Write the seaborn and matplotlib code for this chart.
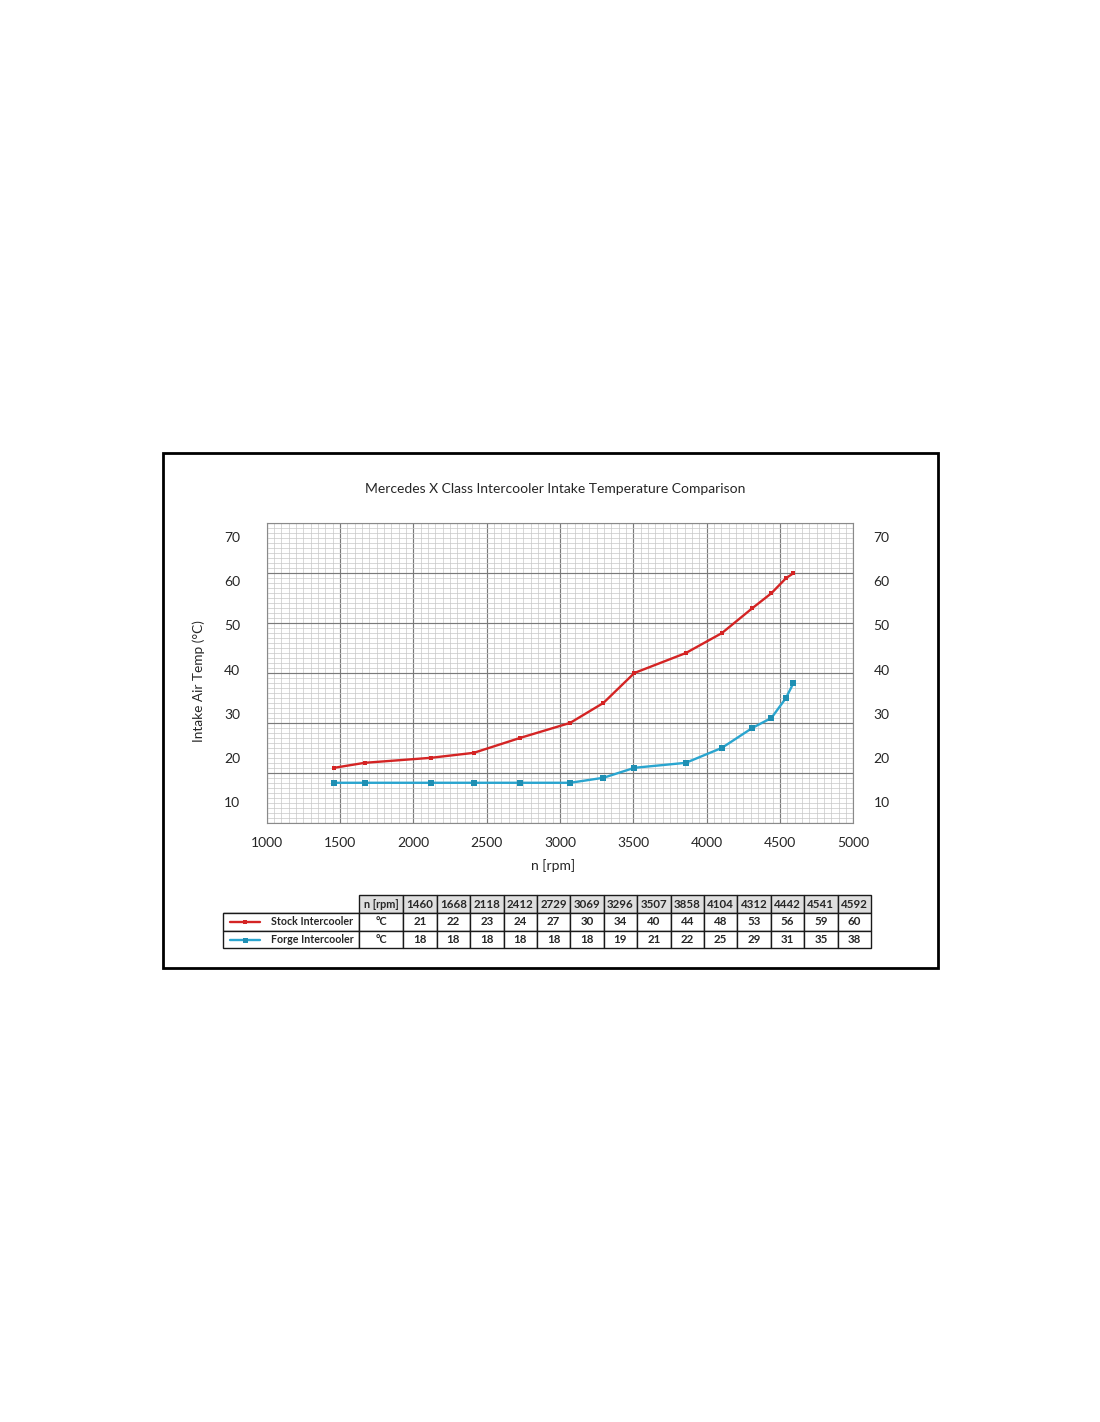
import numpy as np
import pandas as pd
import matplotlib
matplotlib.use("Agg")
import matplotlib.pyplot as plt
import seaborn as sns
from matplotlib.ticker import MultipleLocator
from matplotlib.patches import Rectangle
from matplotlib.lines import Line2D

# ---------------- data ----------------
rpm = [1460, 1668, 2118, 2412, 2729, 3069, 3296, 3507, 3858, 4104, 4312, 4442, 4541, 4592]
stock_temp = [21, 22, 23, 24, 27, 30, 34, 40, 44, 48, 53, 56, 59, 60]
forge_temp = [18, 18, 18, 18, 18, 18, 19, 21, 22, 25, 29, 31, 35, 38]
series_names = ["Stock Intercooler", "Forge Intercooler"]
x_ticks = [1000, 1500, 2000, 2500, 3000, 3500, 4000, 4500, 5000]
y_tick_labels = [10, 20, 30, 40, 50, 60, 70]
title = "Mercedes X Class Intercooler Intake Temperature Comparison"
x_label = "n [rpm]"
y_label = "Intake Air Temp (°C)"
unit_label = "°C"
header_label = "n [rpm]"

# ---------------- style ----------------
sns.set_style("white")
plt.rcParams['font.family'] = ['Lato', 'DejaVu Sans']

RED = "#d42424"
BLUE = "#2aa5cf"
BLUE_MK = "#1f8fb3"
W, H = 1100, 1422
fig = plt.figure(figsize=(W / 100, H / 100), dpi=100)
fig.patch.set_facecolor("white")


def fx(px):
    return px / W


def fy(py):
    return 1 - py / H


# ---------------- main chart ----------------
L, R, T, B = 266.7, 853.3, 523.3, 822.7
ax = fig.add_axes([fx(L), fy(B), (R - L) / W, (B - T) / H])

df = pd.DataFrame({
    "rpm": rpm + rpm,
    "temp": stock_temp + forge_temp,
    "series": [series_names[0]] * len(rpm) + [series_names[1]] * len(rpm),
})
sns.lineplot(data=df[df.series == series_names[0]], x="rpm", y="temp", ax=ax,
             color=RED, lw=1.7, marker="s", markersize=3.2, markeredgewidth=0,
             legend=False, zorder=3)
sns.lineplot(data=df[df.series == series_names[1]], x="rpm", y="temp", ax=ax,
             color=BLUE, lw=1.7, marker="s", markersize=3.8, markeredgewidth=0,
             markerfacecolor=BLUE_MK, legend=False, zorder=3)

ax.set_xlim(1000, 5000)
ax.set_ylim(10, 70)
ax.xaxis.set_major_locator(MultipleLocator(500))
ax.xaxis.set_minor_locator(MultipleLocator(50))
ax.yaxis.set_major_locator(MultipleLocator(10))
ax.yaxis.set_minor_locator(MultipleLocator(1))
ax.set_xticks(x_ticks, labels=[str(v) for v in x_ticks])
ax.grid(which="major", color="#7a7a7a", lw=0.85)
ax.grid(which="minor", color="#c8c8c8", lw=0.5)
ax.set_axisbelow(True)
ax.tick_params(which="both", length=0)
ax.tick_params(axis="x", labelsize=10, pad=10)
for lbl in ax.get_xticklabels():
    lbl.set_x(lbl.get_position()[0])
ax.tick_params(axis="y", labelleft=False)
ax.set_xlabel("")
ax.set_ylabel("")
for s in ax.spines.values():
    s.set_color("#8a8a8a")
    s.set_linewidth(0.8)

# y tick labels, placed where they appear in the reference (both sides)
label_pos = np.linspace(14.2, 67.2, len(y_tick_labels))
axl = ax.twinx()
axl.set_ylim(10, 70)
axl.set_yticks(label_pos, labels=[str(v) for v in y_tick_labels])
axl.tick_params(axis="y", length=0, labelleft=True, labelright=False, left=False,
                right=False, labelsize=10, pad=19)
axr = ax.twinx()
axr.set_ylim(10, 70)
axr.set_yticks(label_pos, labels=[str(v) for v in y_tick_labels])
axr.tick_params(axis="y", length=0, labelleft=False, labelright=True, left=False,
                right=False, labelsize=10, pad=14.5)
for a in (axl, axr):
    for s in a.spines.values():
        s.set_visible(False)
    a.grid(False)

fig.text(fx(555), fy(489), title, ha="center", va="center", fontsize=10)
fig.text(fx(553), fy(866), x_label, ha="center", va="center", fontsize=10)
fig.text(fx(199), fy(681), y_label, ha="center", va="center", rotation=90, fontsize=9.8)

# outer frame
fig.patches.append(Rectangle((fx(162.5), fy(968)), (938 - 162.5) / W, (968 - 453) / H,
                             transform=fig.transFigure, fill=False, lw=2.0,
                             ec="black", zorder=10))

# ---------------- data table ----------------
TL, TR, TT, TB = 222.7, 871, 895.5, 948.3
axt = fig.add_axes([fx(TL), fy(TB), (TR - TL) / W, (TB - TT) / H])
axt.set_axis_off()
col_w = [136.6, 44.0] + [(TR - TL - 136.6 - 44.0) / len(rpm)] * len(rpm)
col_w = [c / sum(col_w) for c in col_w]
cell_text = [
    ["", header_label] + [str(v) for v in rpm],
    ["", unit_label] + [str(v) for v in stock_temp],
    ["", unit_label] + [str(v) for v in forge_temp],
]
tbl = axt.table(cellText=cell_text, colWidths=col_w, cellLoc="center",
                bbox=[0, 0, 1, 1])
tbl.auto_set_font_size(False)
for (r, c), cell in tbl.get_celld().items():
    cell.set_linewidth(1.0)
    cell.set_edgecolor("#1a1a1a")
    cell.get_text().set_fontsize(8.3 if c != 1 else 7.8)
    cell.get_text().set_fontweight("bold")
    if r == 0:
        if c == 0:
            cell.visible_edges = "B"
            cell.set_facecolor("white")
        else:
            cell.set_facecolor("#dedede")
    else:
        cell.set_facecolor("white")

# legend samples inside first column
c0 = col_w[0]
for i, (name, col, ms, mfc) in enumerate(zip(series_names, [RED, BLUE], [3.2, 3.6],
                                             [RED, BLUE_MK])):
    yc = 1 - (i + 1.5) / 3
    axt.add_line(Line2D([0.012, 0.058], [yc, yc], color=col, lw=1.7,
                        transform=axt.transAxes))
    axt.add_line(Line2D([0.035], [yc], color=col, marker="s", markersize=ms,
                        markeredgewidth=0, markerfacecolor=mfc,
                        transform=axt.transAxes))
    axt.text(c0 - 0.009, yc, name, ha="right", va="center", fontsize=7.7,
             fontweight="bold", transform=axt.transAxes)

fig.savefig("out.png", dpi=100, facecolor="white")
